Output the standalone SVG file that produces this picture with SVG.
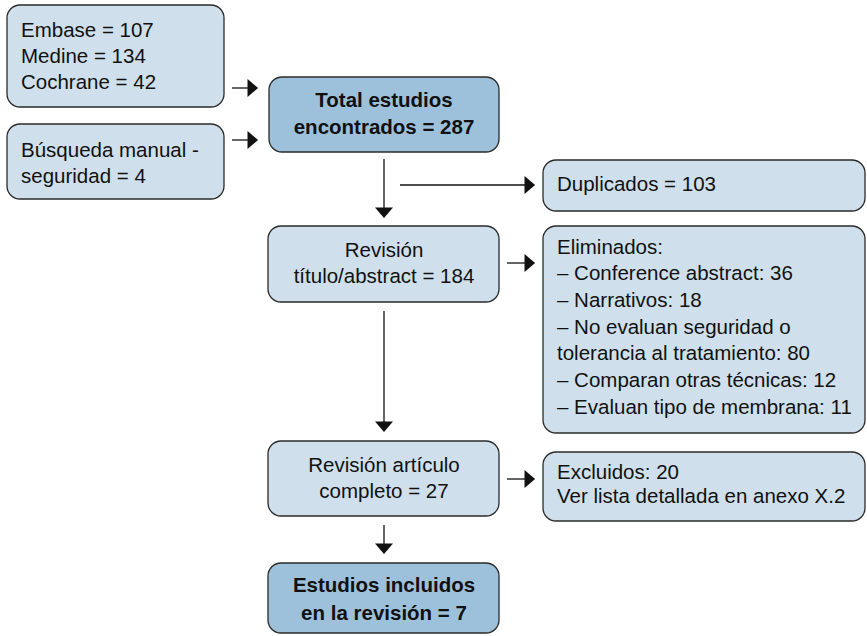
<svg xmlns="http://www.w3.org/2000/svg" width="867" height="636" viewBox="0 0 867 636">
<style>
  .box { fill: #cfe0ec; stroke: #2a2a2a; stroke-width: 1.3; }
  .dark { fill: #9ec1db; stroke: #2a2a2a; stroke-width: 1.3; }
  text { font-family: "Liberation Sans", Arial, Helvetica, sans-serif; font-size: 20.5px; fill: #111; }
  .c { text-anchor: middle; }
  .b { font-weight: bold; }
  .conn line { stroke: #111; stroke-width: 1.3; marker-end: url(#ah); }
</style>
<defs>
  <marker id="ah" markerUnits="userSpaceOnUse" markerWidth="12" markerHeight="18" viewBox="0 0 10 17" refX="8" refY="8.5" orient="auto">
    <path d="M0,0 L10,8.5 L0,17 z" fill="#111"/>
  </marker>
</defs>
<rect width="867" height="636" fill="#fff"/>
<g id="db">
  <rect class="box" x="7" y="5" width="217" height="102" rx="13"/>
  <text x="21" y="37">Embase = 107</text>
  <text x="21" y="63">Medine = 134</text>
  <text x="21" y="89">Cochrane = 42</text>
</g>
<g id="manual">
  <rect class="box" x="7" y="124" width="217" height="75" rx="13"/>
  <text x="21" y="157">Búsqueda manual -</text>
  <text x="21" y="183">seguridad = 4</text>
</g>
<g id="total">
  <rect class="dark" x="269" y="77" width="230" height="75" rx="13"/>
  <text class="c b" x="384" y="107">Total estudios</text>
  <text class="c b" x="384" y="134">encontrados = 287</text>
</g>
<g id="duplicados">
  <rect class="box" x="543" y="160" width="322" height="51" rx="13"/>
  <text x="557" y="191">Duplicados = 103</text>
</g>
<g id="titulo">
  <rect class="box" x="268" y="226" width="231" height="76" rx="13"/>
  <text class="c" x="384" y="257">Revisión</text>
  <text class="c" x="384" y="283">título/abstract = 184</text>
</g>
<g id="eliminados">
  <rect class="box" x="543" y="226" width="322" height="207" rx="13"/>
  <text x="557" y="254">Eliminados:</text>
  <text x="557" y="280">– Conference abstract: 36</text>
  <text x="557" y="307">– Narrativos: 18</text>
  <text x="557" y="334">– No evaluan seguridad o</text>
  <text x="557" y="360">tolerancia al tratamiento: 80</text>
  <text x="557" y="387">– Comparan otras técnicas: 12</text>
  <text x="557" y="414">– Evaluan tipo de membrana: 11</text>
</g>
<g id="articulo">
  <rect class="box" x="268" y="441" width="231" height="75" rx="13"/>
  <text class="c" x="384" y="472">Revisión artículo</text>
  <text class="c" x="384" y="498">completo = 27</text>
</g>
<g id="excluidos">
  <rect class="box" x="543" y="452" width="322" height="69" rx="13"/>
  <text x="557" y="479">Excluidos: 20</text>
  <text x="557" y="503">Ver lista detallada en anexo X.2</text>
</g>
<g id="incluidos">
  <rect class="dark" x="268" y="563" width="231" height="70" rx="13"/>
  <text class="c b" x="384" y="592">Estudios incluidos</text>
  <text class="c b" x="384" y="620">en la revisión = 7</text>
</g>
<g class="conn" id="connectors">
  <line x1="232" y1="88" x2="256" y2="88"/>
  <line x1="232" y1="140" x2="256" y2="140"/>
  <line x1="384" y1="159" x2="384" y2="216"/>
  <line x1="400" y1="185" x2="533" y2="185"/>
  <line x1="507" y1="263" x2="533" y2="263"/>
  <line x1="384" y1="311" x2="384" y2="430"/>
  <line x1="507" y1="479" x2="533" y2="479"/>
  <line x1="384" y1="525" x2="384" y2="552"/>
</g>
</svg>
